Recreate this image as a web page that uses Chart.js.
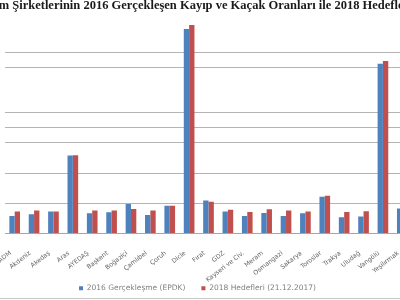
<!DOCTYPE html>
<html><head><meta charset="utf-8">
<script src="https://cdn.jsdelivr.net/npm/chart.js@4/dist/chart.umd.min.js"></script>
<style>
html,body{margin:0;padding:0;background:#fff;overflow:hidden;width:400px;height:300px;}
#wrap{position:absolute;left:-100px;top:0;width:520px;height:303px;}
#title{position:absolute;left:-81.5px;top:-1px;white-space:nowrap;font:bold 12.5px 'Liberation Serif',serif;line-height:13px;color:#1a1a1a;}
#line{position:absolute;left:0;top:298px;width:400px;height:1px;background:#c8c8c8;}
</style></head>
<body>
<div id="wrap"><canvas id="c" width="520" height="303"></canvas></div>
<div id="title"></div>
<div id="line"></div>
<script>
const titleText = "Elektrik Dağıtım Şirketlerinin 2016 Gerçekleşen Kayıp ve Kaçak Oranları ile 2018 Hedefleri";
const categories = ["ADM","Akdeniz","Akedaş","Aras","AYEDAŞ","Başkent","Boğaziçi","Çamlıbel","Çoruh","Dicle","Fırat","GDZ","Kayseri ve Civ.","Meram","Osmangazi","Sakarya","Toroslar","Trakya","Uludağ","Vangölü","Yeşilırmak"];
const actual2016 = [5.8,6.4,7.3,25.8,6.7,7.0,9.8,6.1,9.2,67.7,10.9,7.3,5.8,6.8,5.8,6.7,12.2,5.4,5.6,56.2,8.3];
const target2018 = [7.3,7.6,7.3,25.9,7.6,7.6,8.1,7.6,9.2,69.0,10.5,7.9,7.1,8.0,7.6,7.3,12.5,7.1,7.4,57.1,8.6];
const seriesNames = ["2016 Gerçekleşme (EPDK)","2018 Hedefleri (21.12.2017)"];
const visibleGrid = [0,10,20,30,35,40,55,60];

document.getElementById('title').textContent = titleText;

// let rotated category labels run below the axis box (into the legend band) without clipping
const unclipLabels = {id: 'unclipLabels', afterLayout(chart) { chart.scales.x.bottom = chart.height; }};

new Chart(document.getElementById('c'), {
  type: 'bar',
  data: {
    labels: categories,
    datasets: [
      {label: seriesNames[0], data: actual2016, backgroundColor: '#4F81BD', categoryPercentage: 0.55, barPercentage: 1},
      {label: seriesNames[1], data: target2018, backgroundColor: '#C0504D', categoryPercentage: 0.55, barPercentage: 1}
    ]
  },
  plugins: [unclipLabels],
  options: {
    responsive: false,
    animation: false,
    layout: {padding: {left: 83, right: 8, top: 22, bottom: 1}},
    plugins: {
      title: {display: false},
      legend: {position: 'bottom', labels: {boxWidth: 4, boxHeight: 4, padding: 16, color: '#7f7f7f',
        font: {family: 'DejaVu Sans', size: 7.5}}},
      tooltip: {enabled: false}
    },
    scales: {
      x: {
        grid: {display: false},
        border: {color: '#a6a6a6'},
        ticks: {minRotation: 38, maxRotation: 38, color: '#666666', font: {family: 'DejaVu Sans', size: 6.3}, padding: 8, labelOffset: -4},
        afterFit: s => { s.height = 35; }
      },
      y: {
        min: 0, max: 70,
        ticks: {display: false, stepSize: 5},
        border: {display: false},
        grid: {drawTicks: false, color: ctx => visibleGrid.includes(ctx.tick.value) ? '#b4b4b4' : 'rgba(0,0,0,0)'},
        afterFit: s => { s.width = 22; }
      }
    }
  }
});
</script>
</body></html>
